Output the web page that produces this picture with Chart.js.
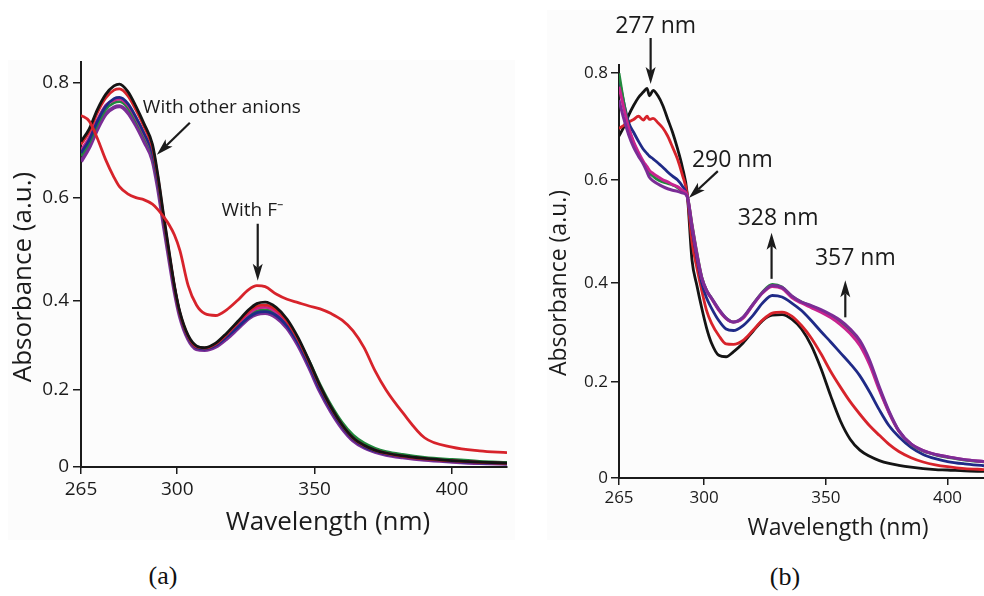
<!DOCTYPE html>
<html>
<head>
<meta charset="utf-8">
<script src="https://cdn.jsdelivr.net/npm/chart.js@4.4.1/dist/chart.umd.min.js"></script>
<style>
  html, body { margin: 0; padding: 0; background: #fff; }
  #page { position: relative; width: 984px; height: 596px; overflow: hidden; }
  .bg { position: absolute; background: #fcfcfc; }
  canvas { position: absolute; }
  .cap { position: absolute; font-family: 'Liberation Serif', serif; font-size: 26px; color: #111; transform: translate(-50%, -50%); }
</style>
</head>
<body>
<div id="page">
  <div class="bg" style="left:8px;top:60px;width:507px;height:480px"></div>
  <div class="bg" style="left:547px;top:10px;width:437px;height:530px"></div>
  <canvas id="chartA" width="520" height="560" style="left:0;top:0"></canvas>
  <canvas id="chartB" width="454" height="560" style="left:530px;top:0"></canvas>
  <div class="cap" style="left:163px;top:576px">(a)</div>
  <div class="cap" style="left:785px;top:577px">(b)</div>
</div>
<script>
// ---- data: panel (a), anion screening ----
const wavelengthA = [265, 268, 271, 274, 277, 279, 282, 285, 288, 291, 293, 295, 297, 299, 301, 304, 307, 310, 314, 318,
  322, 326, 329, 332, 336, 340, 344, 348, 352, 356, 360, 364, 368, 372, 376, 382, 390, 400, 410, 420];
const absA_fluoride = [0.745, 0.735, 0.705, 0.668, 0.637, 0.62, 0.607, 0.6, 0.596, 0.588, 0.578, 0.565, 0.55, 0.53, 0.5, 0.43, 0.39, 0.372, 0.368, 0.38,
  0.4, 0.422, 0.43, 0.428, 0.413, 0.402, 0.395, 0.388, 0.382, 0.372, 0.358, 0.335, 0.298, 0.245, 0.2, 0.145, 0.08, 0.055, 0.045, 0.04];
const absA_black = [0.70, 0.722, 0.755, 0.78, 0.794, 0.797, 0.785, 0.76, 0.73, 0.695, 0.64, 0.57, 0.50, 0.43, 0.375, 0.325, 0.302, 0.298, 0.308, 0.33,
  0.355, 0.38, 0.393, 0.396, 0.385, 0.36, 0.32, 0.268, 0.21, 0.158, 0.114, 0.08, 0.06, 0.047, 0.039, 0.031, 0.024, 0.018, 0.014, 0.011];
const absA_red = [0.695, 0.717, 0.75, 0.774, 0.787, 0.789, 0.778, 0.754, 0.725, 0.69, 0.636, 0.566, 0.497, 0.428, 0.373, 0.323, 0.3, 0.297, 0.306, 0.327,
  0.352, 0.376, 0.388, 0.39, 0.38, 0.355, 0.316, 0.265, 0.208, 0.156, 0.113, 0.079, 0.059, 0.046, 0.038, 0.03, 0.023, 0.017, 0.013, 0.01];
const absA_blue = [0.68, 0.703, 0.735, 0.76, 0.773, 0.775, 0.765, 0.742, 0.714, 0.68, 0.628, 0.56, 0.492, 0.424, 0.37, 0.32, 0.298, 0.295, 0.303, 0.322,
  0.343, 0.364, 0.374, 0.376, 0.368, 0.345, 0.308, 0.258, 0.201, 0.151, 0.109, 0.076, 0.056, 0.044, 0.036, 0.029, 0.022, 0.016, 0.012, 0.009];
const absA_magenta = [0.685, 0.707, 0.738, 0.762, 0.77, 0.772, 0.762, 0.74, 0.712, 0.679, 0.627, 0.56, 0.492, 0.425, 0.37, 0.32, 0.298, 0.296, 0.305, 0.325,
  0.348, 0.372, 0.383, 0.385, 0.375, 0.35, 0.312, 0.262, 0.205, 0.154, 0.111, 0.078, 0.058, 0.046, 0.038, 0.03, 0.023, 0.017, 0.013, 0.01];
const absA_green = [0.675, 0.698, 0.73, 0.755, 0.766, 0.768, 0.758, 0.736, 0.709, 0.676, 0.625, 0.558, 0.491, 0.425, 0.37, 0.32, 0.298, 0.296, 0.305, 0.324,
  0.345, 0.367, 0.378, 0.38, 0.372, 0.35, 0.315, 0.268, 0.213, 0.163, 0.12, 0.087, 0.066, 0.052, 0.043, 0.035, 0.027, 0.021, 0.016, 0.013];
const absA_purple = [0.665, 0.69, 0.722, 0.747, 0.758, 0.76, 0.75, 0.728, 0.7, 0.668, 0.618, 0.552, 0.486, 0.42, 0.366, 0.317, 0.295, 0.293, 0.3, 0.318,
  0.34, 0.362, 0.371, 0.373, 0.364, 0.341, 0.303, 0.253, 0.196, 0.147, 0.105, 0.073, 0.054, 0.042, 0.034, 0.027, 0.02, 0.015, 0.011, 0.009];

// ---- data: panel (b), titration ----
const wavelengthB = [265, 267, 269, 271, 273, 275, 276.5, 277.5, 279, 281, 283, 285, 287, 289, 291, 293, 295, 297, 299, 301,
  303, 306, 309, 312, 316, 320, 324, 328, 332, 336, 340, 344, 348, 352, 356, 360, 364, 368, 372, 376,
  380, 385, 390, 395, 400, 407, 415];
const absB_black = [0.683, 0.70, 0.722, 0.74, 0.755, 0.765, 0.772, 0.758, 0.768, 0.758, 0.74, 0.715, 0.69, 0.66, 0.625, 0.575, 0.445, 0.395, 0.35, 0.31,
  0.28, 0.255, 0.252, 0.262, 0.28, 0.303, 0.325, 0.336, 0.337, 0.328, 0.308, 0.275, 0.228, 0.172, 0.12, 0.082, 0.059, 0.046, 0.037, 0.031,
  0.027, 0.023, 0.02, 0.018, 0.017, 0.015, 0.014];
const absB_red = [0.697, 0.703, 0.709, 0.714, 0.72, 0.713, 0.72, 0.714, 0.716, 0.708, 0.698, 0.683, 0.662, 0.64, 0.61, 0.573, 0.48, 0.43, 0.385, 0.345,
  0.32, 0.295, 0.278, 0.277, 0.285, 0.305, 0.326, 0.34, 0.342, 0.334, 0.315, 0.29, 0.258, 0.222, 0.19, 0.16, 0.134, 0.11, 0.09, 0.071,
  0.056, 0.043, 0.034, 0.028, 0.024, 0.02, 0.018];
const absB_blue = [0.79, 0.745, 0.708, 0.69, 0.673, 0.658, 0.65, 0.645, 0.64, 0.632, 0.624, 0.615, 0.607, 0.6, 0.588, 0.57, 0.505, 0.45, 0.40, 0.37,
  0.35, 0.325, 0.308, 0.305, 0.315, 0.335, 0.36, 0.375, 0.372, 0.36, 0.345, 0.325, 0.303, 0.282, 0.26, 0.238, 0.213, 0.18, 0.143, 0.11,
  0.087, 0.065, 0.05, 0.041, 0.035, 0.03, 0.026];
const absB_green = [0.80, 0.745, 0.698, 0.67, 0.65, 0.632, 0.62, 0.613, 0.607, 0.60, 0.596, 0.593, 0.59, 0.585, 0.578, 0.57, 0.515, 0.46, 0.412, 0.385,
  0.37, 0.347, 0.33, 0.322, 0.331, 0.357, 0.382, 0.397, 0.392, 0.374, 0.362, 0.354, 0.345, 0.334, 0.321, 0.303, 0.279, 0.24, 0.187, 0.138,
  0.099, 0.071, 0.057, 0.049, 0.044, 0.038, 0.034];
const absB_magenta = [0.775, 0.735, 0.698, 0.672, 0.652, 0.635, 0.625, 0.618, 0.612, 0.606, 0.60, 0.596, 0.591, 0.587, 0.58, 0.57, 0.512, 0.457, 0.41, 0.384,
  0.369, 0.346, 0.329, 0.322, 0.33, 0.356, 0.38, 0.393, 0.389, 0.371, 0.36, 0.351, 0.342, 0.331, 0.317, 0.299, 0.275, 0.236, 0.184, 0.137,
  0.099, 0.072, 0.058, 0.05, 0.045, 0.039, 0.035];
const absB_purple = [0.75, 0.715, 0.685, 0.662, 0.645, 0.63, 0.615, 0.605, 0.598, 0.592, 0.587, 0.583, 0.58, 0.578, 0.575, 0.568, 0.51, 0.455, 0.41, 0.385,
  0.37, 0.348, 0.33, 0.322, 0.332, 0.357, 0.381, 0.395, 0.391, 0.374, 0.362, 0.355, 0.347, 0.337, 0.325, 0.308, 0.285, 0.245, 0.19, 0.14,
  0.1, 0.072, 0.058, 0.05, 0.045, 0.039, 0.035];

// ---- axis ticks ----
const xTickValues = [265, 300, 350, 400];
const xTickLabels = ['265', '300', '350', '400'];
const yTickValues = [0, 0.2, 0.4, 0.6, 0.8];
const yTickLabels = ['0', '0.2', '0.4', '0.6', '0.8'];

// ---- annotations (arrow tip in data units) ----
const notesA = [
  { text: 'With other anions', at: [292.6, 0.677], tail: [33, -32], label: [-14, -47], align: 'left' },
  { text: 'With F\u207B', at: [329.3, 0.44], tail: [0, -57], label: [-5.5, -70], align: 'center' }
];
const notesB = [
  { text: '277 nm', at: [278, 0.78], tail: [0, -46], label: [5, -58], align: 'center' },
  { text: '290 nm', at: [293.7, 0.565], tail: [29, -27], label: [43.5, -38], align: 'center' },
  { text: '328 nm', at: [327.7, 0.498], tail: [0, 46], label: [6.5, -14], align: 'center' },
  { text: '357 nm', at: [358, 0.405], tail: [0, 37], label: [10, -22], align: 'center' }
];

const FONT = "'Open Sans', sans-serif";
const INK = '#1b1b1b';
const COLORS = { black: '#141414', red: '#d7232b', blue: '#1f2a87', green: '#21883c', magenta: '#c8238f', purple: '#7b2c96' };

// y axis of the original figure is not evenly spaced; stretch it the same way
class WarpScale extends Chart.LinearScale {
  getPixelForValue(value) {
    if (value === null || value === undefined) return NaN;
    const c = this.options.warp || 0;
    const d = (value - this.min) / (this.max - this.min);
    return this.getPixelForDecimal((d + c * d * d) / (1 + c));
  }
  getValueForPixel(pixel) {
    const c = this.options.warp || 0;
    const w = this.getDecimalForPixel(pixel);
    const d = c ? (Math.sqrt(1 + 4 * c * (1 + c) * w) - 1) / (2 * c) : w;
    return this.min + d * (this.max - this.min);
  }
}
WarpScale.id = 'warp';
WarpScale.defaults = Chart.LinearScale.defaults;
Chart.register(WarpScale);

function drawArrow(ctx, x1, y1, x2, y2) {
  const ang = Math.atan2(y2 - y1, x2 - x1);
  const cos = Math.cos(ang), sin = Math.sin(ang);
  const head = 17, half = 5, notch = 4;
  const bx = x2 - head * cos, by = y2 - head * sin;
  ctx.lineWidth = 2.2;
  ctx.beginPath();
  ctx.moveTo(x1, y1);
  ctx.lineTo(bx + notch * cos, by + notch * sin);
  ctx.stroke();
  ctx.beginPath();
  ctx.moveTo(x2, y2);
  ctx.lineTo(bx - half * sin, by + half * cos);
  ctx.lineTo(bx + notch * cos, by + notch * sin);
  ctx.lineTo(bx + half * sin, by - half * cos);
  ctx.closePath();
  ctx.fill();
}

// axis titles and arrow labels
const textPlugin = {
  id: 'panelText',
  afterDraw(chart) {
    const cfg = chart.$panel;
    const { ctx, chartArea: area, scales } = chart;
    ctx.save();
    ctx.fillStyle = INK;
    ctx.strokeStyle = INK;
    ctx.textBaseline = 'middle';
    ctx.textAlign = 'center';
    ctx.font = cfg.titleSize + 'px ' + FONT;
    ctx.fillText('Wavelength (nm)', area.left + cfg.xTitle[0], area.bottom + cfg.xTitle[1]);
    ctx.save();
    ctx.translate(area.left + cfg.yTitle[0], (area.top + area.bottom) / 2 + cfg.yTitle[1]);
    ctx.rotate(-Math.PI / 2);
    ctx.fillText('Absorbance (a.u.)', 0, 0);
    ctx.restore();
    ctx.font = cfg.noteSize + 'px ' + FONT;
    cfg.notes.forEach(n => {
      const tx = scales.x.getPixelForValue(n.at[0]);
      const ty = scales.y.getPixelForValue(n.at[1]);
      drawArrow(ctx, tx + n.tail[0], ty + n.tail[1], tx, ty);
      ctx.textAlign = n.align;
      ctx.fillText(n.text, tx + n.label[0], ty + n.label[1]);
    });
    ctx.restore();
  }
};

function makePanel(id, wl, series, p) {
  const axisLine = { display: true, color: INK, width: 2 };
  const tickMarks = { display: true, drawOnChartArea: false, drawTicks: true, color: INK, lineWidth: 1.5 };
  const chart = new Chart(document.getElementById(id), {
    type: 'line',
    data: {
      datasets: series.map(s => ({
        data: wl.map((w, i) => ({ x: w, y: s.values[i] })),
        borderColor: s.color,
        borderWidth: s.width,
        pointRadius: 0,
        fill: false,
        cubicInterpolationMode: 'monotone'
      }))
    },
    options: {
      responsive: false,
      animation: false,
      devicePixelRatio: 1,
      layout: { padding: p.padding },
      plugins: { legend: { display: false }, tooltip: { enabled: false } },
      scales: {
        x: {
          type: 'linear', min: 265, max: p.xMax,
          afterBuildTicks: s => { s.ticks = xTickValues.map(v => ({ value: v })); },
          afterFit: s => { s.height = p.xHeight; },
          border: axisLine,
          grid: Object.assign({ tickLength: 7 }, tickMarks),
          ticks: { autoSkip: false, maxRotation: 0, padding: p.xPad, color: INK,
                   font: { family: FONT, size: p.tickSize }, callback: (v, i) => xTickLabels[i] }
        },
        y: {
          type: 'warp', warp: p.warp, min: 0, max: p.yMax,
          afterBuildTicks: s => { s.ticks = yTickValues.map(v => ({ value: v })); },
          afterFit: s => { s.width = p.yWidth; },
          border: axisLine,
          grid: Object.assign({ tickLength: 8 }, tickMarks),
          ticks: { padding: p.yPad, color: INK,
                   font: { family: FONT, size: p.tickSize }, callback: (v, i) => yTickLabels[i] }
        }
      }
    },
    plugins: [{ id: 'attach', beforeInit(c) { c.$panel = p; } }, textPlugin]
  });
  return chart;
}

makePanel('chartA', wavelengthA, [
  { values: absA_fluoride, color: COLORS.red, width: 2.8 },
  { values: absA_black, color: COLORS.black, width: 2.8 },
  { values: absA_red, color: COLORS.red, width: 2.8 },
  { values: absA_blue, color: COLORS.blue, width: 2.8 },
  { values: absA_magenta, color: COLORS.magenta, width: 2.8 },
  { values: absA_green, color: COLORS.green, width: 2.8 },
  { values: absA_purple, color: COLORS.purple, width: 4 }
], {
  padding: { left: 0, top: 62, right: 13, bottom: 0 },
  xMax: 420, yMax: 0.833, warp: 0.378,
  xHeight: 93, yWidth: 81, xPad: 4, yPad: 4, tickSize: 19,
  titleSize: 26, noteSize: 19,
  xTitle: [247, 56], yTitle: [-57, 12.5],
  notes: notesA
});

makePanel('chartB', wavelengthB, [
  { values: absB_purple, color: COLORS.purple, width: 3 },
  { values: absB_magenta, color: COLORS.magenta, width: 3 },
  { values: absB_green, color: COLORS.green, width: 2.8 },
  { values: absB_blue, color: COLORS.blue, width: 2.8 },
  { values: absB_red, color: COLORS.red, width: 2.8 },
  { values: absB_black, color: COLORS.black, width: 2.8 }
], {
  padding: { left: 0, top: 65, right: 0, bottom: 0 },
  xMax: 415, yMax: 0.815, warp: 0.079,
  xHeight: 82, yWidth: 89, xPad: 3, yPad: 3, tickSize: 17,
  titleSize: 23, noteSize: 23,
  xTitle: [219, 50], yTitle: [-60, 11.5],
  notes: notesB
});
</script>
</body>
</html>
